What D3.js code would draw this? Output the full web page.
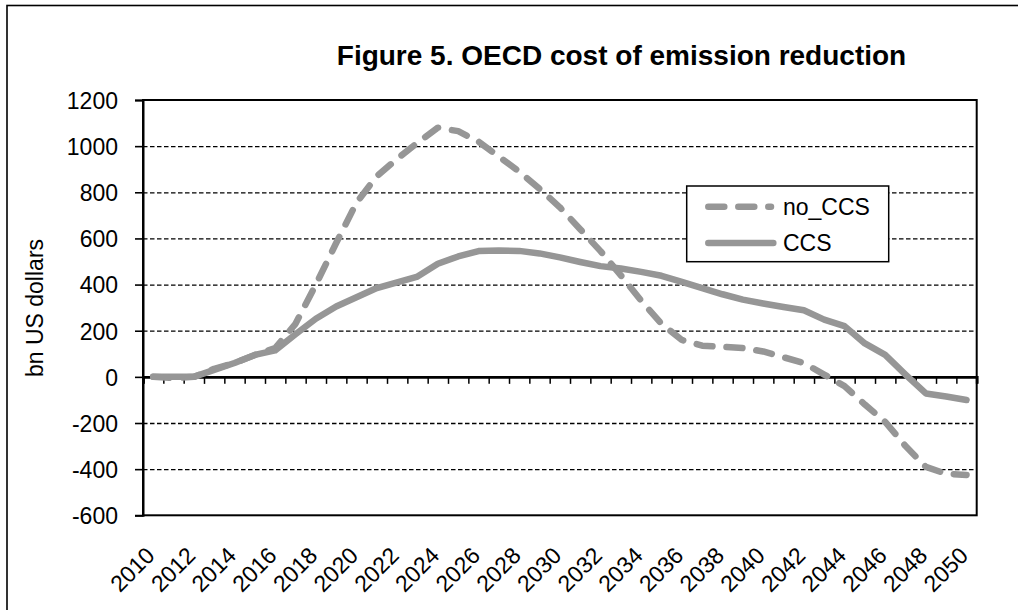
<!DOCTYPE html>
<html>
<head>
<meta charset="utf-8">
<script src="https://cdn.jsdelivr.net/npm/d3@7"></script>
<style>
  html, body { margin: 0; padding: 0; background: #fff; }
  svg { display: block; }
  text { font-family: "Liberation Sans", Arial, sans-serif; fill: #000; }
</style>
</head>
<body>
<svg id="chart" width="1018" height="610"></svg>
<script>
// ---- Data ----
const years = d3.range(2010, 2051);
const yearLabels = years.filter(y => (y - 2010) % 2 === 0);
const noCCS = [0, -5, 0, 35, 60, 95, 125, 230, 400, 580,
               755, 870, 945, 1015, 1080, 1065, 1020, 955, 890, 815,
               735, 640, 545, 440, 330, 230, 160, 135, 130, 125,
               110, 85, 60, 10, -40, -120, -195, -300, -390, -420, -425];
const CCS = [0, 0, 0, 30, 60, 95, 115, 185, 252, 305,
             345, 385, 410, 435, 490, 522, 545, 548, 546, 535,
             518, 498, 480, 470, 455, 438, 412, 385, 358, 335,
             318, 303, 289, 248, 220, 145, 95, 10, -72, -85, -100];
const yTicks = [-600, -400, -200, 0, 200, 400, 600, 800, 1000, 1200];
const seriesNames = ["no_CCS", "CCS"];
const titleText = "Figure 5. OECD cost of emission reduction";
const yAxisTitle = "bn US dollars";

// ---- Layout ----
const svg = d3.select("#chart");
const L = 143, R = 976.7, T = 100, B = 515.3;
const lineColor = "#969696";

svg.append("rect").attr("width", 1018).attr("height", 610).attr("fill", "#fff");
// outer chart border (extends beyond canvas on right/bottom)
svg.append("rect").attr("x", 7).attr("y", 5.5).attr("width", 1200).attr("height", 800)
  .attr("fill", "none").attr("stroke", "#000").attr("stroke-width", 1.6);

const x = d3.scaleBand().domain(years).range([L, R]).paddingInner(0).paddingOuter(0);
const xc = d => x(d) + x.bandwidth() / 2;
const xIdx = d3.scaleLinear().domain([0, years.length]).range([L, R]);
const y = d3.scaleLinear().domain([-600, 1200]).range([B, T]);

// gridlines
const grid = svg.append("g").attr("transform", `translate(${L},0)`)
  .call(d3.axisLeft(y).tickValues(yTicks.filter(v => v !== 0 && v !== 1200 && v !== -600))
        .tickSize(-(R - L)).tickFormat(""));
grid.select(".domain").remove();
grid.selectAll("line").attr("stroke", "#000").attr("stroke-width", 1.3).attr("stroke-dasharray", "4.5,2.5");

// plot border
svg.append("rect").attr("x", L).attr("y", T).attr("width", R - L).attr("height", B - T)
  .attr("fill", "none").attr("stroke", "#000").attr("stroke-width", 2);

// y axis ticks + labels
const yAx = svg.append("g").attr("transform", `translate(${L},0)`)
  .call(d3.axisLeft(y).tickValues(yTicks).tickSize(8).tickPadding(17).tickFormat(d => String(d)));
yAx.select(".domain").attr("stroke", "#000").attr("stroke-width", 2);
yAx.selectAll("line").attr("stroke", "#000").attr("stroke-width", 1.6);
yAx.selectAll("text").style("font-size", "23px").attr("dy", "0.36em")
  .style("font-family", '"Liberation Sans", Arial, sans-serif');

// x axis at zero
const xAx = svg.append("g").attr("transform", `translate(0,${y(0)})`)
  .call(d3.axisBottom(xIdx).tickValues(d3.range(0, years.length + 1)).tickSize(7).tickFormat(""));
xAx.select(".domain").attr("stroke", "#000").attr("stroke-width", 2.8);
xAx.selectAll("line").attr("stroke", "#000").attr("stroke-width", 1.5);

// x labels at bottom, rotated
svg.append("g").selectAll("text").data(yearLabels).join("text")
  .attr("transform", d => `translate(${xc(d) + 3},557) rotate(-45)`)
  .attr("text-anchor", "end")
  .style("font-size", "23px")
  .text(d => d);

// series lines
const line = d3.line().x((d, i) => xc(years[i])).y(d => y(d));
svg.append("path").datum(CCS).attr("d", line)
  .attr("fill", "none").attr("stroke", lineColor).attr("stroke-width", 6.5)
  .attr("stroke-linejoin", "round").attr("stroke-linecap", "round");
svg.append("path").datum(noCCS).attr("d", line)
  .attr("fill", "none").attr("stroke", lineColor).attr("stroke-width", 6.5)
  .attr("stroke-linejoin", "round").attr("stroke-linecap", "round")
  .attr("stroke-dasharray", "16,14");

// title
svg.append("text").attr("x", 621.5).attr("y", 65).attr("text-anchor", "middle")
  .style("font-size", "28px").style("font-weight", "bold").text(titleText);

// y axis title
svg.append("text").attr("transform", "translate(42.5,308) rotate(-90)")
  .attr("text-anchor", "middle").style("font-size", "23px").text(yAxisTitle);

// legend
const lg = svg.append("g");
lg.append("rect").attr("x", 686.7).attr("y", 186).attr("width", 202).attr("height", 75.7)
  .attr("fill", "#fff").attr("stroke", "#000").attr("stroke-width", 1.5);
const legendY = [206.7, 243];
seriesNames.forEach((name, i) => {
  const l = lg.append("line").attr("x1", 708.3).attr("x2", i === 0 ? 771 : 773.3)
    .attr("y1", legendY[i]).attr("y2", legendY[i])
    .attr("stroke", lineColor).attr("stroke-width", 6.5).attr("stroke-linecap", "round");
  if (i === 0) l.attr("stroke-dasharray", "16,14");
  lg.append("text").attr("x", 783).attr("y", legendY[i]).attr("dy", "0.36em")
    .style("font-size", "23px").text(name);
});
</script>
</body>
</html>
